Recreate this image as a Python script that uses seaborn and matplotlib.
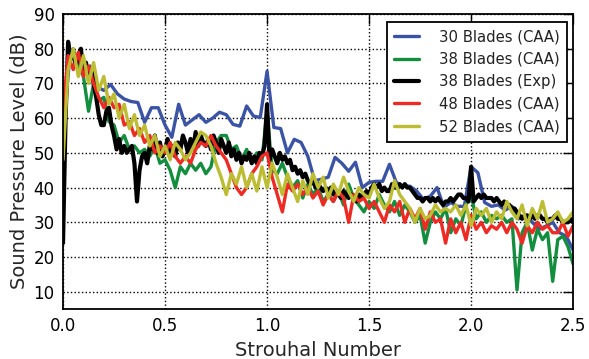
import numpy as np
import pandas as pd
import matplotlib
matplotlib.use('Agg')
import matplotlib.pyplot as plt
import seaborn as sns

# ---- data (SPL in dB vs Strouhal number) ----
blades_30_caa = [
    55, 78, 77, 74, 75, 69, 68, 69.7, 67, 65.5, 64.8, 64.5, 58.8, 63, 63, 58,
    54.5, 64, 58, 59.5, 61, 58.8, 60, 61.7, 61, 58.2, 57.7, 63.5, 60.6, 60.2,
    73.5, 57.3, 57, 50, 53.9, 53, 49, 42, 42.4, 43, 48.7, 47, 44.7, 47.3, 40,
    41.5, 41.8, 41.8, 46.7, 41.5, 40.4, 40.4, 39, 36.6, 37.5, 40, 34.3, 35.7,
    34.6, 34.6, 46, 44.3, 35.7, 34.6, 35, 33.5, 34.6, 31, 32, 30, 28, 28.9, 30,
    27, 26, 22,
]

blades_38_caa = [
    48, 78, 80, 75, 72, 62, 70, 65, 66, 59, 58, 53, 55, 51, 52, 50, 51, 49, 52,
    47, 48, 45, 40, 46, 44, 47, 45, 47, 44, 46, 53, 55, 55, 51, 52, 48, 51, 47,
    50, 48, 62, 45, 44, 47, 43, 40, 42, 37, 41, 38, 40, 36, 38, 36, 39, 35, 41,
    37, 35, 33, 36, 34, 38, 35, 33, 36, 32, 35, 33, 30, 32, 24, 30, 33, 31, 34,
    27, 31, 29, 35, 38, 31, 33, 30, 32, 31, 32, 30, 31, 10.5, 27, 30, 22, 28,
    25, 27, 13, 25, 26, 23, 18,
]

blades_38_exp = [
    24, 60, 82, 77, 79, 75, 78, 80,
    73, 76, 72, 74, 70, 66, 61, 58,
    58, 62, 63, 58, 55, 51, 54, 50,
    52, 50, 51, 52, 47, 36, 45, 49,
    50, 47, 52, 51, 55, 50, 53, 49,
    51, 54, 50, 52, 49, 53, 51, 55,
    53, 50, 54, 51, 56, 52, 55, 53,
    52, 54, 51, 55, 53, 50, 54, 52,
    50, 53, 49, 51, 48, 50, 47, 49,
    48, 50, 47, 49, 47, 50, 49, 52,
    64, 48, 51, 49, 47, 50, 48, 49,
    47, 48, 45, 46, 44, 45, 43, 44,
    42, 41, 42, 40, 41, 40, 39, 40,
    39, 40, 38, 39, 38, 37, 39, 38,
    37, 38, 37, 36, 38, 37, 38, 39,
    38, 40, 41, 40, 41, 39, 40, 39,
    39, 41, 40, 40, 41, 40, 41, 40,
    40, 39, 38, 37, 37, 36, 37, 37,
    36, 37, 36, 37, 36, 35, 36, 36,
    37, 36, 37, 38, 38, 37, 37, 36,
    46, 36, 37, 38, 37, 38, 37, 37,
    37, 36, 37, 36, 35, 36, 35, 35,
    34, 34, 33, 32, 31, 32, 32, 31,
    32, 31, 32, 32, 31, 31, 30, 31,
    31, 32, 31, 31, 30, 30, 30, 31,
    30,
]

blades_48_caa = [
    62, 78, 74, 79, 72, 75, 70, 66, 63, 66, 63, 64, 58, 59, 55, 57, 53, 55, 50,
    52, 50, 53, 49, 47, 49, 47, 51, 53, 52, 55, 52, 50, 48, 44, 40, 38, 40, 44,
    46, 49, 50, 43, 38, 33, 41, 39, 41, 38, 40, 37, 39, 35, 38, 36, 39, 37, 30,
    38, 36, 37, 34, 36, 33, 30, 35, 33, 36, 30, 34, 31, 34, 28, 33, 30, 31, 24,
    31, 27, 30, 25, 32, 28, 30, 27, 29, 28, 30, 27, 30, 28, 24, 29, 27, 30, 28,
    29, 27, 27, 30, 26, 29,
]

blades_52_caa = [
    48, 74, 80, 72, 78, 70, 76, 68, 72, 64, 67, 60, 64, 57, 61, 55, 58, 52, 55,
    49, 52, 48, 53, 51, 48, 50, 53, 56, 55, 52, 47, 43, 38, 44, 41, 46, 40, 44,
    39, 46, 40, 47, 43, 38, 44, 40, 36, 42, 38, 44, 40, 43, 37, 41, 38, 43, 39,
    36, 40, 38, 37, 41, 37, 34, 36, 42, 38, 36, 34, 30, 34, 31, 32, 35, 33, 34,
    33, 35, 32, 35, 29, 34, 32, 34, 30, 33, 31, 36, 33, 31, 35, 29, 34, 31, 36,
    30, 31, 33, 30, 31, 33,
]

series_labels = ['30 Blades (CAA)', '38 Blades (CAA)', '38 Blades (Exp)',
                 '48 Blades (CAA)', '52 Blades (CAA)']
series_values = [blades_30_caa, blades_38_caa, blades_38_exp,
                 blades_48_caa, blades_52_caa]
colors = ['#3a53a4', '#138d3e', '#000000', '#ee2a24', '#bcbd32']
widths = [2.4, 2.4, 3.0, 2.4, 2.4]

frames = []
for lab, vals in zip(series_labels, series_values):
    frames.append(pd.DataFrame({'St': np.linspace(0, 2.5, len(vals)),
                                'SPL': vals, 'case': lab}))
df = pd.concat(frames, ignore_index=True)

# ---- plot ----
sns.set_style('white')
plt.rcParams['font.family'] = ['DejaVu Sans']
fig = plt.figure(figsize=(5.89, 3.59), dpi=100)
ax = fig.add_axes([0.107, 0.139, 0.866, 0.822])

for lab, col, lw in zip(series_labels, colors, widths):
    sns.lineplot(data=df[df['case'] == lab], x='St', y='SPL', color=col,
                 linewidth=lw, label=lab, ax=ax, estimator=None, sort=False)

ax.set_xlim(0, 2.5)
ax.set_ylim(5, 90)
ax.set_xticks([0.0, 0.5, 1.0, 1.5, 2.0, 2.5])
ax.set_yticks([10, 20, 30, 40, 50, 60, 70, 80, 90])
ax.set_xticklabels(['0.0', '0.5', '1.0', '1.5', '2.0', '2.5'])
ax.grid(True, linestyle=':', color='black', linewidth=1.0)
ax.tick_params(direction='in', top=True, right=True, length=7, width=1,
               labelsize=12, colors='black', pad=6)
for sp in ax.spines.values():
    sp.set_color('black')
    sp.set_linewidth(1.3)

ax.set_xlabel('Strouhal Number', fontsize=14, labelpad=4)
ax.set_ylabel('Sound Pressure Level (dB)', fontsize=14, labelpad=4)

leg = ax.legend(loc='upper right', fontsize=10.7, handlelength=1.7,
                frameon=True, fancybox=False, borderpad=0.5,
                labelspacing=0.5, handletextpad=1.3, borderaxespad=0,
                bbox_to_anchor=(0.988, 0.973))
leg.get_frame().set_edgecolor('black')
leg.get_frame().set_linewidth(1.3)
leg.get_frame().set_alpha(1)
for t in leg.get_texts():
    t.set_color('#222222')

fig.savefig('out.png', dpi=100)
plt.close(fig)
